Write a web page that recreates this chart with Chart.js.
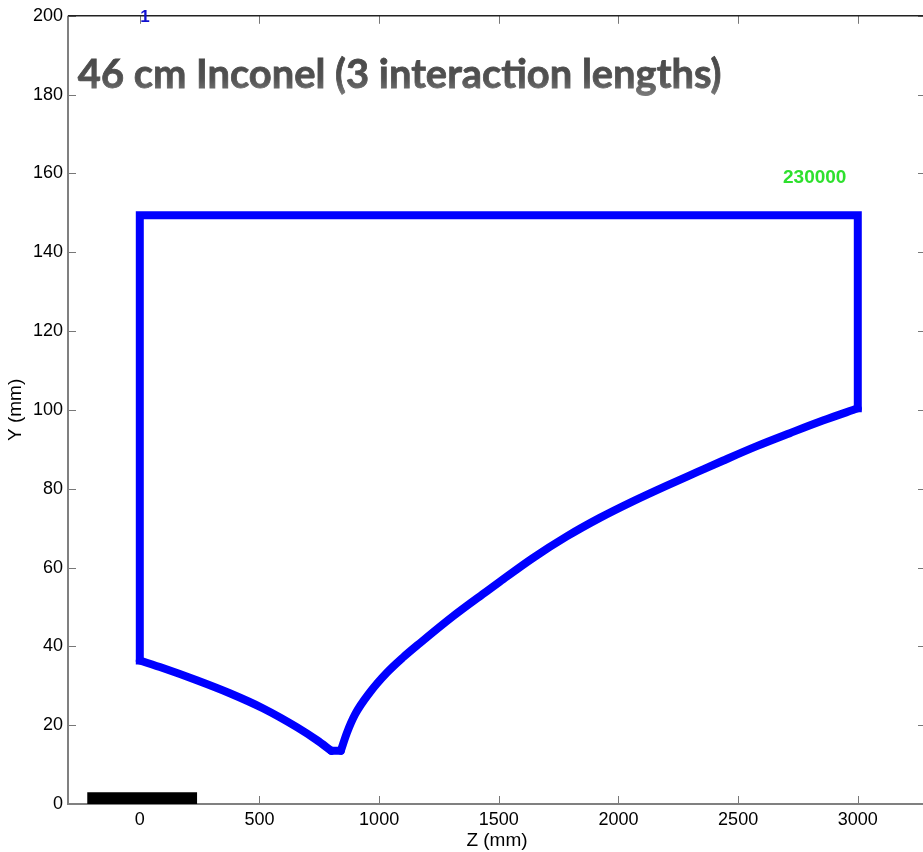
<!DOCTYPE html>
<html>
<head>
<meta charset="utf-8">
<script src="https://cdn.jsdelivr.net/npm/chart.js@4.4.1/dist/chart.umd.min.js"></script>
<style>
  html, body { margin: 0; padding: 0; background: #fff; overflow: hidden; }
  #wrap { position: relative; width: 932px; height: 852px; }
</style>
</head>
<body>
<div id="wrap"><canvas id="c"></canvas></div>
<script>
// Lower edge of the absorber (Z, Y in mm): falling part, flat bottom, rising part
const leftZ = [0, 96, 238, 376, 514, 656, 740, 800];
const leftY = [36.4, 34.5, 31.4, 28.1, 24.3, 19.5, 16.2, 13.5];
const bottomZ = [800, 840];
const bottomY = [13.5, 13.5];
const rightZ = [840, 865, 900, 961, 1032, 1100, 1170, 1308, 1450, 1504, 1642, 1784, 1922,
  2060, 2202, 2328, 2436, 2578, 2716, 2854, 3000];
const rightY = [13.5, 18.0, 22.8, 28.3, 33.3, 37.2, 40.8, 47.6, 54.0, 56.4, 62.4, 67.9, 72.6,
  76.8, 80.8, 84.2, 87.1, 90.8, 94.1, 97.3, 100.4];
// straight sides: right edge, top, left edge
const boxZ = [3000, 3000, 0, 0];
const boxY = [100.4, 149.4, 149.4, 36.4];

// black scale bar at the bottom left
const barZ = [-220, 240];
const barY = [3, 3];

const xTicks = [0, 500, 1000, 1500, 2000, 2500, 3000];
const yTicks = [0, 20, 40, 60, 80, 100, 120, 140, 160, 180, 200];

// text placed in data coordinates
const titleText = '46 cm Inconel (3 interaction lengths)';
const titlePos = [-259, 185];
const marks = [
  { text: '1', z: 22, y: 199.6, color: '#1010d0', font: 'bold 17px "Liberation Sans", Arial, sans-serif' },
  { text: '230000', z: 2820, y: 159, color: '#2ee02e', font: 'bold 19px "Liberation Sans", Arial, sans-serif' },
];

const frameTicks = {
  id: 'frameTicks',
  beforeDatasetsDraw(chart) {
    const { ctx, chartArea: a, scales: { x, y } } = chart;
    ctx.save();
    ctx.strokeStyle = '#777';
    ctx.lineWidth = 1;
    const L = 8;
    ctx.beginPath();
    xTicks.forEach(v => {
      const px = Math.round(x.getPixelForValue(v)) + 0.5;
      ctx.moveTo(px, a.bottom); ctx.lineTo(px, a.bottom - L);
      ctx.moveTo(px, a.top); ctx.lineTo(px, a.top + L);
    });
    yTicks.forEach(v => {
      const py = Math.round(y.getPixelForValue(v)) + 0.5;
      ctx.moveTo(a.left, py); ctx.lineTo(a.left + L, py);
      ctx.moveTo(a.right, py); ctx.lineTo(a.right - L, py);
    });
    ctx.stroke();
    // box
    ctx.lineWidth = 2;
    ctx.strokeStyle = '#808080';
    ctx.beginPath();
    ctx.moveTo(a.left, a.top); ctx.lineTo(a.left, a.bottom); ctx.lineTo(a.right, a.bottom);
    ctx.stroke();
    ctx.strokeStyle = '#222';
    ctx.lineWidth = 1.5;
    ctx.beginPath();
    ctx.moveTo(a.left, a.top); ctx.lineTo(a.right, a.top); ctx.lineTo(a.right, a.bottom);
    ctx.stroke();
    ctx.restore();
  },
  afterDraw(chart) {
    const { ctx, scales: { x, y } } = chart;
    ctx.save();
    // big title, shaded grey like the slide text
    let size = 40;
    ctx.font = `bold ${size}px Lato, "Open Sans", sans-serif`;
    const w = ctx.measureText(titleText).width;
    size = size * 644 / w;
    ctx.font = `bold ${size}px Lato, "Open Sans", sans-serif`;
    const tx = x.getPixelForValue(titlePos[0]), ty = y.getPixelForValue(titlePos[1]);
    const g = ctx.createLinearGradient(0, ty - size / 2, 0, ty + size / 2);
    g.addColorStop(0, '#474747');
    g.addColorStop(0.6, '#525252');
    g.addColorStop(1, '#787878');
    ctx.fillStyle = g;
    ctx.strokeStyle = g;
    ctx.lineWidth = 0.8;
    ctx.textBaseline = 'middle';
    ctx.textAlign = 'left';
    ctx.fillText(titleText, tx, ty);
    ctx.strokeText(titleText, tx, ty);
    ctx.textAlign = 'center';
    marks.forEach(m => {
      ctx.font = m.font;
      ctx.fillStyle = m.color;
      ctx.fillText(m.text, x.getPixelForValue(m.z), y.getPixelForValue(m.y));
    });
    ctx.restore();
  }
};

const fam = '"Liberation Sans", Arial, sans-serif';
const tickFont = { family: fam, size: 18 };
const pts = (zs, ys) => zs.map((z, i) => ({ x: z, y: ys[i] }));
const blueLine = { showLine: true, borderColor: '#0000ff', borderWidth: 8, borderJoinStyle: 'miter',
  borderCapStyle: 'round', fill: false, pointRadius: 0 };

new Chart(document.getElementById('c'), {
  type: 'scatter',
  data: {
    datasets: [
      {
        data: pts(barZ, barY),
        showLine: true,
        borderWidth: 0,
        borderColor: '#000',
        backgroundColor: '#000',
        fill: 'origin',
        pointRadius: 0,
      },
      { ...blueLine, data: pts(boxZ, boxY), borderCapStyle: 'square', tension: 0 },
      { ...blueLine, data: pts(leftZ, leftY), cubicInterpolationMode: 'monotone' },
      { ...blueLine, data: pts(bottomZ, bottomY), tension: 0 },
      { ...blueLine, data: pts(rightZ, rightY), cubicInterpolationMode: 'monotone' },
    ]
  },
  options: {
    responsive: true,
    maintainAspectRatio: false,
    animation: false,
    events: [],
    layout: { padding: { top: 13, right: 6, left: 0, bottom: 0 } },
    plugins: { legend: { display: false }, tooltip: { enabled: false } },
    scales: {
      x: {
        type: 'linear',
        min: -300,
        max: 3285,
        afterBuildTicks: s => { s.ticks = xTicks.map(v => ({ value: v })); },
        afterFit: s => { s.height = 48; },
        grid: { display: false, drawTicks: false },
        border: { display: false },
        ticks: { font: tickFont, color: '#000', padding: 5, maxRotation: 0, callback: v => String(v) },
        title: { display: true, text: 'Z (mm)', color: '#000', font: { family: fam, size: 19 }, padding: { top: 0, bottom: 0 } },
      },
      y: {
        type: 'linear',
        min: 0,
        max: 200,
        afterBuildTicks: s => { s.ticks = yTicks.map(v => ({ value: v })); },
        afterFit: s => { s.width = 68; },
        grid: { display: false, drawTicks: false },
        border: { display: false },
        ticks: { font: tickFont, color: '#000', padding: 5, callback: v => String(v) },
        title: { display: true, text: 'Y (mm)', color: '#000', font: { family: fam, size: 19 }, padding: { top: 4, bottom: 0 } },
      }
    }
  },
  plugins: [frameTicks]
});
</script>
</body>
</html>
